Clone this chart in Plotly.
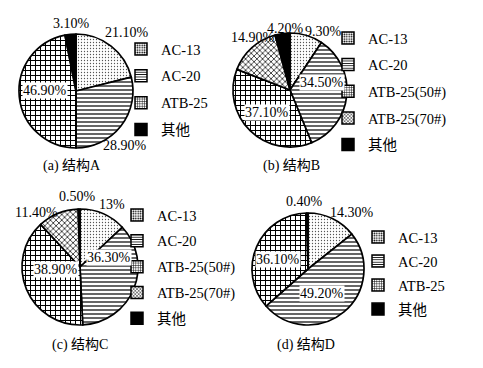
import math
import plotly.graph_objects as go

W, H = 483, 368
OFF = 8  # page body margin of the browser, compensated in positions

# ---- data ----
labels_A = ["AC-13", "AC-20", "ATB-25", "其他"]
values_A = [21.1, 28.9, 46.9, 3.1]
labels_B = ["AC-13", "AC-20", "ATB-25(50#)", "ATB-25(70#)", "其他"]
values_B = [9.3, 34.5, 37.1, 14.9, 4.2]
labels_C = ["AC-13", "AC-20", "ATB-25(50#)", "ATB-25(70#)", "其他"]
values_C = [13, 36.3, 38.9, 11.4, 0.5]
labels_D = ["AC-13", "AC-20", "ATB-25", "其他"]
values_D = [14.3, 49.2, 36.1, 0.4]
text_A = ["21.10%", "28.90%", "46.90%", "3.10%"]
text_B = ["9.30%", "34.50%", "37.10%", "14.90%", "4.20%"]
text_C = ["13%", "36.30%", "38.90%", "11.40%", "0.50%"]
text_D = ["14.30%", "49.20%", "36.10%", "0.40%"]
captions = ["(a) 结构A", "(b) 结构B", "(c) 结构C", "(d) 结构D"]

# ---- styles / layout ----
FONT = "Liberation Serif, Noto Sans CJK SC, serif"
pattern_of = {
    "AC-13": dict(shape=".", size=3, solidity=0.15, fg="#555555"),
    "AC-20": dict(shape="-", size=4, solidity=0.3, fg="black"),
    "ATB-25": dict(shape="+", size=5, solidity=0.36, fg="black"),
    "ATB-25(50#)": dict(shape="+", size=5, solidity=0.36, fg="black"),
    "ATB-25(70#)": dict(shape="x", size=4, solidity=0.4, fg="#333333"),
    "其他": dict(shape="", size=4, solidity=0.3, fg="black"),
}
color_of = {"其他": "black"}

# pie centers / radius in screen px
geo = [
    dict(cx=76, cy=91, r=57),
    dict(cx=290, cy=90, r=57),
    dict(cx=80, cy=267, r=58),
    dict(cx=308, cy=269, r=56),
]
# label placement: angle offset (deg) from slice mid, radius factor
lab_off = [
    [(3, 1.37), (10, 1.28), (6, 0.55), (2, 1.18)],
    [(13, 1.18), (-19, 0.58), (1.5, 0.56), (6.6, 1.12), (3, 1.09)],
    [(3.6, 1.21), (-41, 0.53), (16, 0.42), (-16.5, 1.21), (-1, 1.22)],
    [(12, 1.27), (10, 0.5), (-5.6, 0.57), (-2, 1.2)],
]
legend_pos = [(121, 33, 5.0), (328, 22, 4.8), (117, 199, 4.0), (358, 221, 2.2)]
caption_pos = [(72, 166), (291, 166), (80, 345), (306, 345)]


def px2x(px):
    return (px - OFF) / W


def py2y(py):
    return 1 - (py - OFF) / H


sets = [(labels_A, values_A, text_A), (labels_B, values_B, text_B),
        (labels_C, values_C, text_C), (labels_D, values_D, text_D)]
legend_names = ["legend", "legend2", "legend3", "legend4"]

fig = go.Figure()
annotations = []
for i, (labs, vals, txts) in enumerate(sets):
    g = geo[i]
    dom_x = [px2x(g["cx"] - g["r"]), px2x(g["cx"] + g["r"])]
    dom_y = [py2y(g["cy"] + g["r"]), py2y(g["cy"] - g["r"])]
    fig.add_trace(go.Pie(
        labels=labs, values=vals, sort=False, direction="clockwise", rotation=0,
        textinfo="none", hoverinfo="label+value", showlegend=False,
        domain=dict(x=dom_x, y=dom_y),
        marker=dict(
            colors=[color_of.get(l, "white") for l in labs],
            line=dict(color="black", width=1.7),
            pattern=dict(
                shape=[pattern_of[l]["shape"] for l in labs],
                size=[pattern_of[l]["size"] for l in labs],
                solidity=[pattern_of[l]["solidity"] for l in labs],
                fgcolor=[pattern_of[l]["fg"] for l in labs],
                bgcolor="white", fillmode="replace",
            ),
        ),
    ))
    total = sum(vals)
    cum = 0
    for j, v in enumerate(vals):
        mid = (cum + v / 2) / total * 360
        cum += v
        off, rf = lab_off[i][j]
        a = math.radians(mid + off)
        px = g["cx"] + rf * g["r"] * math.sin(a)
        py = g["cy"] - rf * g["r"] * math.cos(a)
        annotations.append(dict(
            x=px2x(px), y=py2y(py), xref="paper", yref="paper",
            text=txts[j], showarrow=False, xanchor="center", yanchor="middle",
            font=dict(family=FONT, size=14, color="black"),
            bgcolor="white" if rf < 1 else "rgba(0,0,0,0)", borderpad=0,
        ))
    for l in labs:
        p = pattern_of[l]
        fig.add_trace(go.Bar(
            x=[None], y=[None], name=l, legend=legend_names[i],
            legendgroup=f"g{i}_{l}", showlegend=True,
            marker=dict(
                color=color_of.get(l, "white"),
                line=dict(color="black", width=1.5),
                pattern=dict(shape=p["shape"], size=3, solidity=0.35,
                             fgcolor="black", bgcolor="white",
                             fillmode="replace"),
            ),
        ))
    annotations.append(dict(
        x=px2x(caption_pos[i][0]), y=py2y(caption_pos[i][1]),
        xref="paper", yref="paper", text=captions[i], showarrow=False,
        xanchor="center", yanchor="middle",
        font=dict(family=FONT, size=14, color="black"),
    ))

layout_legends = {}
for i, name in enumerate(legend_names):
    lx, ly, gap = legend_pos[i]
    layout_legends[name] = dict(
        x=px2x(lx), y=py2y(ly), xanchor="left", yanchor="top",
        xref="paper", yref="paper",
        font=dict(family=FONT, size=14.5, color="black"),
        bgcolor="rgba(0,0,0,0)", tracegroupgap=gap,
    )

fig.update_layout(
    width=W, height=H, margin=dict(l=0, r=0, t=0, b=0),
    paper_bgcolor="white", plot_bgcolor="white",
    xaxis=dict(visible=False, domain=[0, 0.01]),
    yaxis=dict(visible=False, domain=[0, 0.01]),
    annotations=annotations,
    **layout_legends,
)

fig.write_html("out.html")
